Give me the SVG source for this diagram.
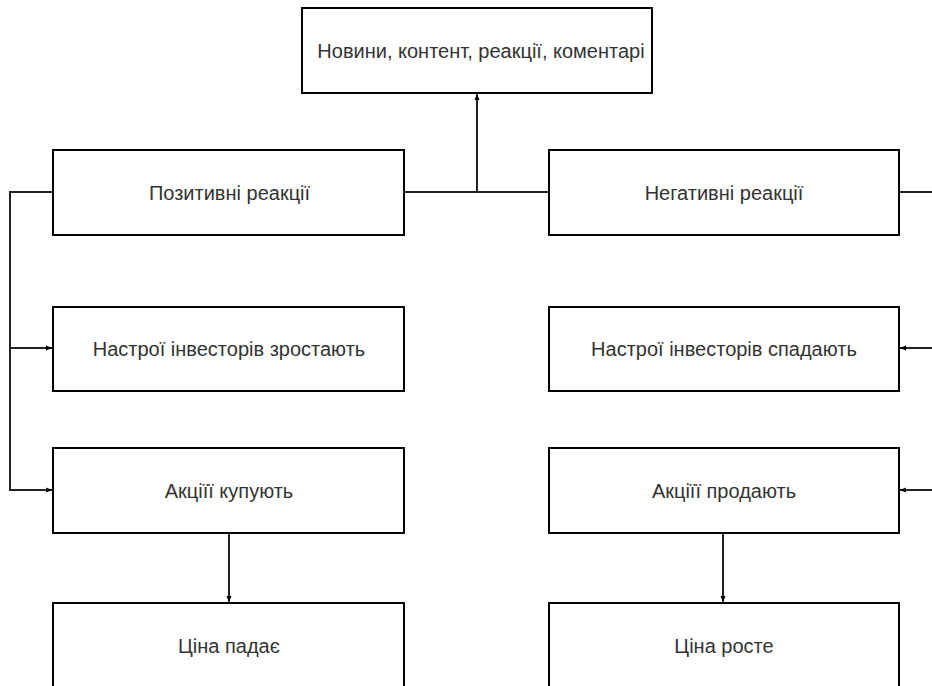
<svg xmlns="http://www.w3.org/2000/svg" width="932" height="686" viewBox="0 0 932 686">
<style>
.box{fill:#fff;stroke:#000;stroke-width:2}
.lbl{font-family:"Liberation Sans",Arial,sans-serif;font-size:20px;fill:#333;text-anchor:middle;dominant-baseline:central}
.edge{fill:none;stroke:#222;stroke-width:2}
</style>
<defs>
<marker id="arr" markerUnits="userSpaceOnUse" markerWidth="8" markerHeight="8" viewBox="0 0 8 8" refX="7" refY="4" orient="auto">
<path d="M1,1.5 L7,4 L1,6.5 Z" fill="#000"/>
</marker>
</defs>
<rect width="932" height="686" fill="#fff"/>
<g id="connectors">
<path class="edge" d="M404,192 H477 V94" marker-end="url(#arr)"/>
<path class="edge" d="M549,192 H477"/>
<path class="edge" d="M53,192 H10 V348 H52" marker-end="url(#arr)"/>
<path class="edge" d="M10,348 V490 H52" marker-end="url(#arr)"/>
<path class="edge" d="M899,192 H945 V348 H900" marker-end="url(#arr)"/>
<path class="edge" d="M945,348 V490 H900" marker-end="url(#arr)"/>
<path class="edge" d="M229,533 V602" marker-end="url(#arr)"/>
<path class="edge" d="M723,533 V602" marker-end="url(#arr)"/>
</g>
<g id="n-news"><rect class="box" x="302" y="8" width="350" height="85"/><text class="lbl" x="481" y="50.5">Новини, контент, реакції, коментарі</text></g>
<g id="n-pos"><rect class="box" x="53" y="150" width="351" height="85"/><text class="lbl" x="229.5" y="192.5">Позитивні реакції</text></g>
<g id="n-neg"><rect class="box" x="549" y="150" width="350" height="85"/><text class="lbl" x="724" y="192.5">Негативні реакції</text></g>
<g id="n-up"><rect class="box" x="53" y="307" width="351" height="84"/><text class="lbl" x="229" y="349">Настрої інвесторів зростають</text></g>
<g id="n-down"><rect class="box" x="549" y="307" width="350" height="84"/><text class="lbl" x="724" y="349">Настрої інвесторів спадають</text></g>
<g id="n-buy"><rect class="box" x="53" y="448" width="351" height="85"/><text class="lbl" x="229" y="490.5">Акціїї купують</text></g>
<g id="n-sell"><rect class="box" x="549" y="448" width="350" height="85"/><text class="lbl" x="724" y="490.5">Акціїї продають</text></g>
<g id="n-fall"><rect class="box" x="53" y="603" width="351" height="85"/><text class="lbl" x="229" y="645.5">Ціна падає</text></g>
<g id="n-rise"><rect class="box" x="549" y="603" width="350" height="85"/><text class="lbl" x="724" y="645.5">Ціна росте</text></g>
</svg>
